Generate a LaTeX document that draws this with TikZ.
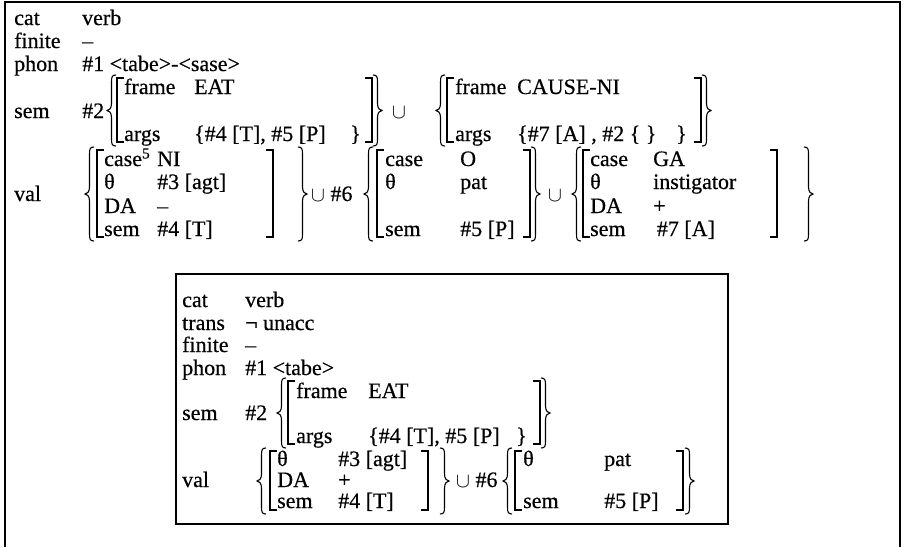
\documentclass[tikz,border=0pt]{standalone}
\usepackage{fontspec}
\setmainfont{Liberation Serif}
\newfontfamily\scanfont{Liberation Serif}[FakeBold=0.5,Ligatures=TeX]

\tikzset{
  avm/.style={anchor=base west, inner sep=0pt, font=\scanfont\fontsize{22}{24}\selectfont},
  brk/.style={line width=1.3pt},
  brc/.style={line width=1.1pt},
  frm/.style={line width=1.3pt}
}
% square brackets: x, top, bottom
\newcommand\sqL[3]{\draw[brk] ({#1+7},#2) -- (#1,#2) -- (#1,#3) -- ({#1+7},#3);}
\newcommand\sqR[3]{\draw[brk] ({#1-7},#2) -- (#1,#2) -- (#1,#3) -- ({#1-7},#3);}
% curly braces: x of the tip (left) or of the arms (right), top, bottom
\newcommand\brL[3]{\draw[brc] ({#1+9},#2) .. controls ({#1+5},#2) and ({#1+4.5},{#2+2}) .. ({#1+4.5},{#2+7})
  -- ({#1+4.5},{(#2+#3)/2-7}) .. controls ({#1+4.5},{(#2+#3)/2-2}) and ({#1+2},{(#2+#3)/2}) .. (#1,{(#2+#3)/2})
  .. controls ({#1+2},{(#2+#3)/2}) and ({#1+4.5},{(#2+#3)/2+2}) .. ({#1+4.5},{(#2+#3)/2+7})
  -- ({#1+4.5},{#3-7}) .. controls ({#1+4.5},{#3-2}) and ({#1+5},#3) .. ({#1+9},#3);}
\newcommand\brR[3]{\draw[brc] (#1,#2) .. controls ({#1+4},#2) and ({#1+4.5},{#2+2}) .. ({#1+4.5},{#2+7})
  -- ({#1+4.5},{(#2+#3)/2-7}) .. controls ({#1+4.5},{(#2+#3)/2-2}) and ({#1+7},{(#2+#3)/2}) .. ({#1+9},{(#2+#3)/2})
  .. controls ({#1+7},{(#2+#3)/2}) and ({#1+4.5},{(#2+#3)/2+2}) .. ({#1+4.5},{(#2+#3)/2+7})
  -- ({#1+4.5},{#3-7}) .. controls ({#1+4.5},{#3-2}) and ({#1+4},#3) .. (#1,#3);}

\begin{document}
\begin{tikzpicture}[x=1pt,y=-1pt]
\useasboundingbox (0,0) rectangle (904,547);

% outer frame, open at the bottom
\draw[frm] (5,547) -- (5,2) -- (900,2) -- (900,547);

% ---- upper structure
\foreach \n/\y/\a/\v in {cat/25/cat/verb, fin/48/finite/–, phon/71/phon/\#1 <tabe>-<sase>}{
  \node[avm] (u\n) at (14,\y) {\a};
  \node[avm] (u\n-v) at (82,\y) {\v};
}
\node[avm] (usem) at (14,118) {sem};
\node[avm] (usem-v) at (82,118) {\#2};

% sem: first frame
\brL{107}{75}{146}
\sqL{117}{78}{142}
\node[avm] (ufr1) at (124,94) {frame};
\node[avm] (ufr1-v) at (194,94) {EAT};
\node[avm] (uar1) at (124,141) {args};
\node[avm] (uar1-v) at (194,141) {\{\#4 [T], \#5 [P]};
\node[avm] (uar1-c) at (350,141) {\}};
\sqR{372}{78}{142}
\brR{373}{75}{146}
\node[avm] (ucup1) at (392,118) {$\cup$};

% sem: second frame
\brL{436}{75}{146}
\sqL{447}{78}{142}
\node[avm] (ufr2) at (455,94) {frame};
\node[avm] (ufr2-v) at (517,94) {CAUSE-NI};
\node[avm] (uar2) at (455,141) {args};
\node[avm] (uar2-v) at (517,141) {\{\#7 [A] , \#2 \{ \}};
\node[avm] (uar2-c) at (676,141) {\}};
\sqR{701}{78}{142}
\brR{702}{75}{146}

% val
\node[avm] (uval) at (14,201) {val};
\brL{85}{147}{241}
\sqL{97}{150}{237}
\foreach \n/\y/\a/\v in {a/166/case\textsuperscript{5}/NI, b/189/θ/\#3 [agt], c/213/DA/–, d/236/sem/\#4 [T]}{
  \node[avm] (uv1\n) at (104,\y) {\a};
  \node[avm] (uv1\n-v) at (157,\y) {\v};
}
\sqR{273}{150}{237}
\brR{298}{147}{241}
\node[avm] (ucup2) at (311,201) {$\cup$ \#6};

\brL{364}{147}{241}
\sqL{377}{150}{237}
\foreach \n/\y/\a/\v in {a/166/case/O, b/189/θ/pat, d/236/sem/\#5 [P]}{
  \node[avm] (uv2\n) at (385,\y) {\a};
  \node[avm] (uv2\n-v) at (460,\y) {\v};
}
\sqR{530}{150}{237}
\brR{531}{147}{241}
\node[avm] (ucup3) at (548,201) {$\cup$};

\brL{572}{147}{241}
\sqL{583}{150}{237}
\foreach \n/\y/\a/\v in {a/166/case/GA, b/189/θ/instigator, c/213/DA/+, d/236/sem/\,\#7 [A]}{
  \node[avm] (uv3\n) at (590,\y) {\a};
  \node[avm] (uv3\n-v) at (653,\y) {\v};
}
\sqR{777}{150}{237}
\brR{804}{147}{241}

% ---- lower structure
\draw[frm] (176,274) rectangle (728,524);
\foreach \n/\y/\a/\v in {cat/307/cat/verb, trans/330/trans/¬ unacc, fin/352/finite/–, phon/375/phon/\#1 <tabe>}{
  \node[avm] (l\n) at (182,\y) {\a};
  \node[avm] (l\n-v) at (245,\y) {\v};
}
\node[avm] (lsem) at (182,420) {sem};
\node[avm] (lsem-v) at (245,420) {\#2};
\brL{277}{378}{448}
\sqL{288}{381}{444}
\node[avm] (lfr) at (296,398) {frame};
\node[avm] (lfr-v) at (368,398) {EAT};
\node[avm] (lar) at (296,443) {args};
\node[avm] (lar-v) at (368,443) {\{\#4 [T], \#5 [P]};
\node[avm] (lar-c) at (516,443) {\}};
\sqR{540}{381}{444}
\brR{541}{378}{448}

\node[avm] (lval) at (182,487) {val};
\brL{257}{448}{514}
\sqL{270}{451}{510}
\foreach \n/\y/\a/\v in {b/466/θ/\#3 [agt], c/487/DA/+, d/508/sem/\#4 [T]}{
  \node[avm] (lv1\n) at (277,\y) {\a};
  \node[avm] (lv1\n-v) at (338,\y) {\v};
}
\sqR{428}{451}{510}
\brR{440}{448}{514}
\node[avm] (lcup) at (456,487) {$\cup$ \#6};

\brL{503}{448}{514}
\sqL{515}{451}{510}
\foreach \n/\y/\a/\v in {b/466/θ/pat, d/508/sem/\#5 [P]}{
  \node[avm] (lv2\n) at (523,\y) {\a};
  \node[avm] (lv2\n-v) at (604,\y) {\v};
}
\sqR{683}{451}{510}
\brR{685}{448}{514}

\end{tikzpicture}
\end{document}
